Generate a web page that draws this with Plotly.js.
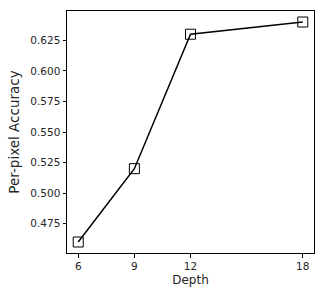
<!DOCTYPE html>
<html>
<head>
<meta charset="utf-8">
<script src="https://cdn.plot.ly/plotly-3.0.1.min.js"></script>
<style>html,body{margin:0;padding:0;background:#fff;}#chart{width:325px;height:296px;}</style>
</head>
<body>
<div id="chart"></div>
<script>
const depths = [6, 9, 12, 18];
const accuracy = [0.460, 0.520, 0.630, 0.640];
const xTicks = [6, 9, 12, 18];
const yTicks = [0.475, 0.500, 0.525, 0.550, 0.575, 0.600, 0.625];

const trace = {
  x: depths,
  y: accuracy,
  type: 'scatter',
  mode: 'lines+markers',
  line: {color: '#000', width: 1.5},
  marker: {symbol: 'square-open', size: 10, color: '#000', line: {width: 1, color: '#000'}},
  hoverinfo: 'none'
};

const axisCommon = {
  showline: true, mirror: true, linecolor: '#000', linewidth: 1,
  ticks: 'outside', ticklen: 3.5, tickwidth: 1, tickcolor: '#000',
  showgrid: false, zeroline: false,
  tickfont: {family: 'DejaVu Sans', size: 10.5, color: '#262626'}
};

const layout = {
  width: 325, height: 296,
  margin: {l: 66.5, r: 10.7, t: 11, b: 42.7},
  paper_bgcolor: '#fff', plot_bgcolor: '#fff',
  showlegend: false,
  xaxis: Object.assign({}, axisCommon, {
    range: [5.4, 18.6], tickvals: xTicks, ticktext: xTicks.map(String),
    title: {text: 'Depth', font: {family: 'DejaVu Sans', size: 12, color: '#262626'}, standoff: 4}
  }),
  yaxis: Object.assign({}, axisCommon, {
    range: [0.451, 0.649], tickvals: yTicks, ticktext: yTicks.map(v => v.toFixed(3)),
    title: {text: 'Per-pixel Accuracy', font: {family: 'DejaVu Sans', size: 13.5, color: '#262626'}, standoff: 7}
  })
};

Plotly.newPlot('chart', [trace], layout, {displayModeBar: false, staticPlot: true});
</script>
</body>
</html>
